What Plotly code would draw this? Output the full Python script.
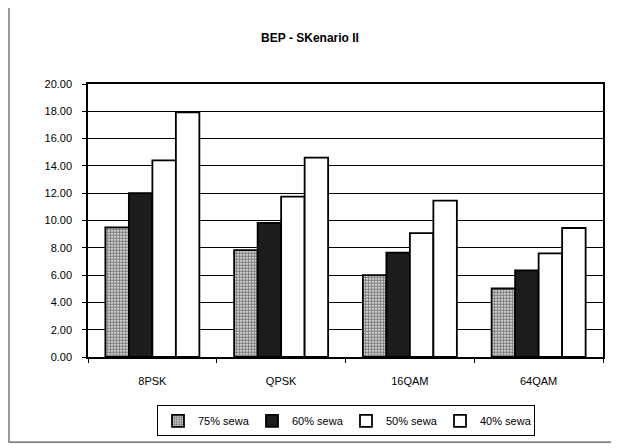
import plotly.graph_objects as go

categories = ["8PSK", "QPSK", "16QAM", "64QAM"]
series_names = ["75% sewa", "60% sewa", "50% sewa", "40% sewa"]
sewa_75 = [9.50, 7.83, 6.00, 5.02]
sewa_60 = [12.00, 9.83, 7.64, 6.34]
sewa_50 = [14.40, 11.75, 9.08, 7.59]
sewa_40 = [17.92, 14.60, 11.45, 9.45]
y_ticks = [0, 2, 4, 6, 8, 10, 12, 14, 16, 18, 20]
y_tick_labels = ["0.00", "2.00", "4.00", "6.00", "8.00", "10.00", "12.00",
                 "14.00", "16.00", "18.00", "20.00"]
title_text = "BEP - SKenario II"

FONT = "Liberation Sans, Arial, sans-serif"

styles = [
    dict(color="white", pattern=dict(shape=".", fgcolor="black", bgcolor="white",
                                     size=3, solidity=0.7)),
    dict(color="#1c1c1c"),
    dict(color="white"),
    dict(color="white"),
]
values = [sewa_75, sewa_60, sewa_50, sewa_40]

fig = go.Figure()
for name, vals, st in zip(series_names, values, styles):
    marker = dict(color=st["color"], line=dict(color="black", width=1.8))
    if "pattern" in st:
        marker["pattern"] = st["pattern"]
    fig.add_trace(go.Bar(name=name, x=categories, y=vals, marker=marker))

# page body has an 8px margin; target layout is expressed in screen pixels
OFF = 8
W, H = 619 - OFF, 448 - OFF
ml = 88 - OFF
mt = 84 - OFF
mr = W - (603 - OFF)
mb = H - (360 - OFF)
pw, ph = W - ml - mr, H - mt - mb

def px(x):
    return (x - OFF - ml) / pw

def py(y):
    return (H - mb - (y - OFF)) / ph

fig.update_layout(
    width=W, height=H,
    margin=dict(l=ml, r=mr, t=mt, b=mb, pad=0),
    paper_bgcolor="white", plot_bgcolor="white",
    barmode="group", bargap=0.27, bargroupgap=0,
    font=dict(family=FONT, size=11, color="black"),
    title=dict(text="<b>" + title_text + "</b>", x=px(310), xanchor="center",
               xref="paper", y=1 - (38 - OFF) / H, yanchor="middle",
               font=dict(size=12, family=FONT)),
    showlegend=True,
    legend=dict(orientation="h", x=px(346), xanchor="center", y=py(409), yanchor="top",
                bordercolor="black", borderwidth=1, bgcolor="white",
                font=dict(size=11, family=FONT), itemwidth=30,
                entrywidth=49, entrywidthmode="pixels",
                tracegroupgap=0, traceorder="normal"),
    xaxis=dict(showline=True, linecolor="black", linewidth=1.5, mirror=True,
               ticks="outside", tickson="boundaries", ticklen=4, tickcolor="black",
               showgrid=False, ticklabelstandoff=13,
               tickfont=dict(size=11, family=FONT)),
    yaxis=dict(range=[0, 20], tickvals=y_ticks, ticktext=y_tick_labels,
               showline=True, linecolor="black", linewidth=1.5, mirror=True,
               ticks="outside", ticklen=4, tickcolor="black",
               showgrid=True, gridcolor="black", gridwidth=1,
               zeroline=False, ticklabelstandoff=8,
               tickfont=dict(size=11, family=FONT)),
    shapes=[dict(type="rect", xref="paper", yref="paper",
                 x0=px(9), x1=px(640), y0=py(446), y1=py(4),
                 line=dict(color="#555555", width=1.2), fillcolor="rgba(0,0,0,0)",
                 layer="below")],
)

fig.write_html("out.html")
